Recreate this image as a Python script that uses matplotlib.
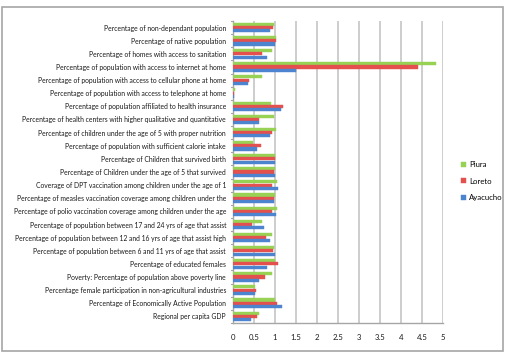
import matplotlib
matplotlib.use("Agg")
import matplotlib.pyplot as plt
from matplotlib.patches import Rectangle
import numpy as np

categories = [
    "Percentage of non-dependant population",
    "Percentage of native population",
    "Percentage of homes with access to sanitation",
    "Percentage of population with access to internet at home",
    "Percentage of population with access to cellular phone at home",
    "Percentage of population with access to telephone at home",
    "Percentage of population affiliated to health insurance",
    "Percentage of health centers with higher qualitative and quantitative",
    "Percentage of children under the age of 5 with proper nutrition",
    "Percentage of population with sufficient calorie intake",
    "Percentage of Children that survived birth",
    "Percentage of Children under the age of 5 that survived",
    "Coverage of DPT vaccination among children under the age of 1",
    "Percentage of measles vaccination coverage among children under the",
    "Percentage of polio vaccination coverage among children under the age",
    "Percentage of population between 17 and 24 yrs of age that assist",
    "Percentage of population between 12 and 16 yrs of age that assist high",
    "Percentage of population between 6 and 11 yrs of age that assist",
    "Percentage of educated females",
    "Poverty: Percentage of population above poverty line",
    "Percentage female participation in non-agricultural industries",
    "Percentage of Economically Active Population",
    "Regional per capita GDP",
]

piura = [0.97, 1.02, 0.93, 4.84, 0.70, 0.05, 0.91, 0.97, 1.02, 0.48, 1.00, 0.99,
         1.05, 1.01, 1.04, 0.68, 0.92, 0.98, 1.01, 0.94, 0.53, 1.01, 0.62]
loreto = [0.95, 1.02, 0.68, 4.41, 0.39, 0.02, 1.18, 0.63, 0.92, 0.66, 1.00, 0.98,
          0.94, 0.98, 0.93, 0.45, 0.78, 0.95, 1.08, 0.77, 0.54, 1.04, 0.58]
ayacucho = [0.88, 1.00, 0.81, 1.51, 0.35, 0.02, 1.14, 0.62, 0.88, 0.57, 1.00, 0.99,
            1.06, 0.97, 1.02, 0.74, 0.89, 0.99, 0.80, 0.61, 0.53, 1.16, 0.42]

series_names = ["Piura", "Loreto", "Ayacucho"]
series_colors = ["#97D255", "#E4504E", "#4C84CF"]
x_ticks = [0, 0.5, 1, 1.5, 2, 2.5, 3, 3.5, 4, 4.5, 5]
x_tick_labels = ["0", "0.5", "1", "1.5", "2", "2.5", "3", "3.5", "4", "4.5", "5"]

W, H = 506, 354
fig = plt.figure(figsize=(W / 100, H / 100), dpi=100)
plt.rcParams['font.family'] = ['Lato', 'DejaVu Sans']

# outer border
fig.patches.append(Rectangle((2 / W, 3 / H), 501 / W, 344 / H, transform=fig.transFigure,
                             fill=False, edgecolor="#A6A6A6", linewidth=1.2))

left, right = 233 / W, 443 / W
bottom, top = 1 - 323 / H, 1 - 21 / H
ax = fig.add_axes([left, bottom, right - left, top - bottom])

y = np.arange(len(categories))
bh = 0.25
data = [piura, loreto, ayacucho]
offsets = [-bh, 0, bh]
for vals, name, col, off in zip(data, series_names, series_colors, offsets):
    ax.barh(y + off, vals, height=bh * 0.95, color=col, label=name, zorder=3,
            edgecolor=col, linewidth=0.3)

ax.set_ylim(len(categories) - 0.5, -0.5)
ax.set_xlim(0, 5)
ax.set_yticks(y)
ax.set_yticklabels(categories, fontsize=4.9, color="#1A1A1A")
ax.set_xticks(x_ticks)
ax.set_xticklabels(x_tick_labels, fontsize=5.6, color="#1A1A1A")
ax.tick_params(axis='y', length=0, pad=5)
ax.tick_params(axis='x', length=0, pad=8)
ax.xaxis.grid(True, color="#CDCDCD", linewidth=1.4, zorder=0)
for s in ["top", "right"]:
    ax.spines[s].set_visible(False)
ax.spines["left"].set_color("#A6A6A6")
ax.spines["bottom"].set_color("#A6A6A6")
ax.spines["left"].set_linewidth(1.0)
ax.spines["bottom"].set_linewidth(1.0)
ax.set_facecolor("none")

# small category boundary marks on left wall
for b in np.arange(-0.5, len(categories) + 0.5, 1.0):
    ax.plot([-0.04, 0.0], [b, b], color="#A6A6A6", linewidth=0.8, clip_on=False, zorder=4)

handles, labels = ax.get_legend_handles_labels()
leg = fig.legend(handles, labels, loc="center left", bbox_to_anchor=(454 / W, 1 - 181 / H),
                 frameon=False, fontsize=5.6, handlelength=0.6, handleheight=0.6,
                 handletextpad=0.4, labelspacing=1.2)

fig.savefig("out.png", dpi=100)
